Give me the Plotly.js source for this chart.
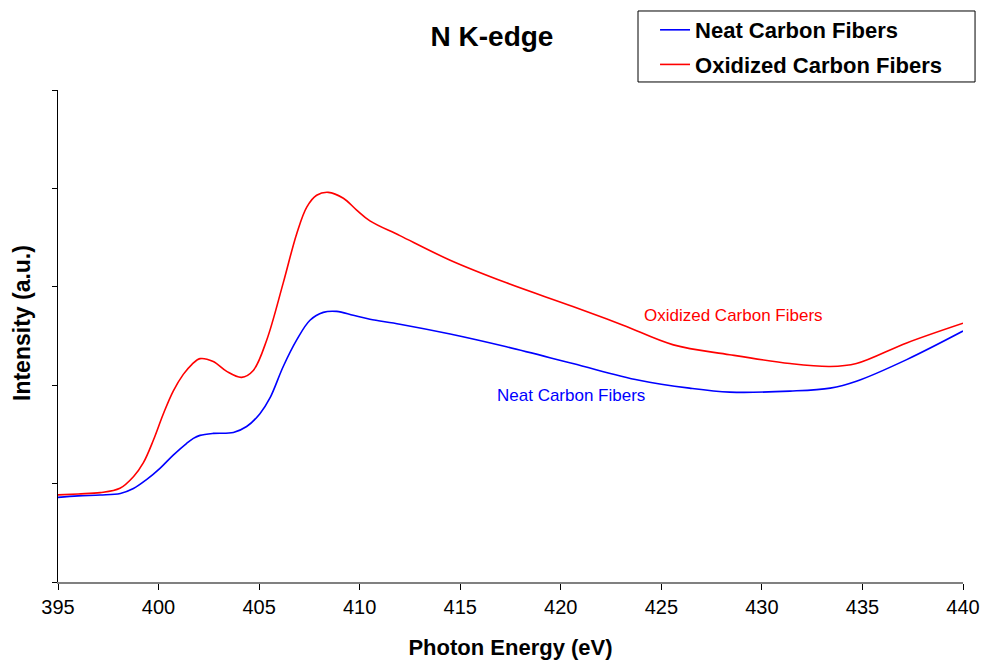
<!DOCTYPE html>
<html>
<head>
<meta charset="utf-8">
<script src="https://cdn.plot.ly/plotly-3.0.1.min.js"></script>
<style>html,body{margin:0;padding:0;background:#fff;}#chart{width:981px;height:660px;}</style>
</head>
<body>
<div id="chart"></div>
<script>
const neatEnergy = [395, 396, 397.1, 398.1, 398.75, 399.4, 400.07, 400.73, 401.4, 401.73, 402.06, 402.72, 403.72, 404.38, 405.04, 405.54, 406.2, 406.87, 407.53, 408.19, 408.86, 409.68, 410.51, 412, 414.5, 417.3, 420.6, 423.9, 426.4, 428.4, 431.4, 433.4, 434.7, 437.2, 440];
const neatIntensity = [0.86, 0.875, 0.884, 0.90, 0.95, 1.04, 1.155, 1.29, 1.41, 1.46, 1.49, 1.51, 1.52, 1.58, 1.71, 1.87, 2.19, 2.46, 2.66, 2.74, 2.75, 2.71, 2.67, 2.62, 2.52, 2.39, 2.22, 2.05, 1.97, 1.93, 1.94, 1.97, 2.04, 2.26, 2.55];
const oxEnergy = [395, 396, 397.1, 398.08, 398.75, 399.24, 399.74, 400.24, 400.73, 401.23, 401.65, 402.06, 402.72, 403.39, 404.13, 404.71, 405.38, 406.2, 406.87, 407.37, 407.86, 408.44, 409.19, 409.85, 410.51, 412, 414.5, 417.3, 420.6, 423.1, 425.6, 428.4, 431.4, 433.4, 434.7, 437.2, 440];
const oxIntensity = [0.885, 0.895, 0.908, 0.952, 1.07, 1.21, 1.44, 1.71, 1.94, 2.11, 2.21, 2.27, 2.24, 2.14, 2.08, 2.15, 2.46, 3.04, 3.54, 3.81, 3.93, 3.96, 3.90, 3.78, 3.67, 3.52, 3.27, 3.04, 2.80, 2.61, 2.41, 2.31, 2.22, 2.19, 2.22, 2.43, 2.63];
const seriesNames = ["Neat Carbon Fibers", "Oxidized Carbon Fibers"];
const xTicks = [395, 400, 405, 410, 415, 420, 425, 430, 435, 440];
const yTicks = [0, 1, 2, 3, 4, 5];

const F = "Liberation Sans, Arial, sans-serif";
const traces = [
  {x: neatEnergy, y: neatIntensity, name: seriesNames[0], legendgroup: "a", mode: "lines", line: {color: "#0000ff", width: 1.6, shape: "spline", smoothing: 1}},
  {x: oxEnergy, y: oxIntensity, name: seriesNames[1], legendgroup: "b", mode: "lines", line: {color: "#ff0000", width: 1.6, shape: "spline", smoothing: 1}}
];
const layout = {
  width: 981, height: 660,
  margin: {l: 58, r: 18, t: 90, b: 78, autoexpand: false},
  paper_bgcolor: "#fff", plot_bgcolor: "#fff",
  title: {text: "<b>N K-edge</b>", font: {family: F, size: 28, color: "#000"}, x: 0.5015, xanchor: "center", y: 0.945, yanchor: "middle"},
  xaxis: {
    range: [395, 440], tickvals: xTicks, ticktext: xTicks.map(String),
    showgrid: false, zeroline: false, showline: true, linecolor: "#808080", linewidth: 2,
    ticks: "outside", ticklen: 6, tickcolor: "#000", tickwidth: 1,
    tickfont: {family: F, size: 20, color: "#000"},
    title: {text: "<b>Photon Energy (eV)</b>", font: {family: F, size: 22, color: "#000"}, standoff: 24}
  },
  yaxis: {
    range: [0, 5], tickvals: yTicks, showticklabels: false,
    showgrid: false, zeroline: false, showline: true, linecolor: "#000", linewidth: 1,
    ticks: "outside", ticklen: 5, tickcolor: "#000"
  },
  showlegend: true,
  legend: {
    x: 0.6597, y: 1.1646, xanchor: "left", yanchor: "top",
    borderwidth: 0, bgcolor: "rgba(0,0,0,0)",
    font: {family: F, size: 22, color: "#000", weight: "bold"},
    tracegroupgap: 3, itemwidth: 30
  },
  shapes: [
    {type: "rect", xref: "paper", yref: "paper", x0: 0.6409, x1: 1.0133, y0: 1.0163, y1: 1.1606, line: {color: "#000", width: 1}, fillcolor: "rgba(0,0,0,0)", layer: "below"}
  ],
  annotations: [
    {x: -0.0398, y: 0.5264, xref: "paper", yref: "paper", text: "<b>Intensity (a.u.)</b>", textangle: -90, showarrow: false, xanchor: "center", yanchor: "middle", font: {family: F, size: 23, color: "#000"}},
    {x: 428.6, y: 2.71, xref: "x", yref: "y", text: seriesNames[1], showarrow: false, font: {family: F, size: 17, color: "#ff0000"}},
    {x: 420.5, y: 1.90, xref: "x", yref: "y", text: seriesNames[0], showarrow: false, font: {family: F, size: 17, color: "#0000ff"}}
  ]
};
Plotly.newPlot("chart", traces, layout, {displayModeBar: false, staticPlot: true});
</script>
</body>
</html>
